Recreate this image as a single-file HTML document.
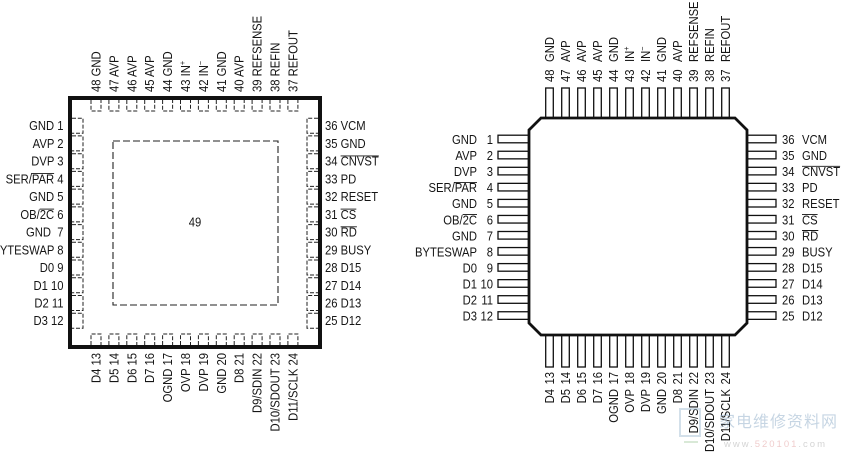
<!DOCTYPE html>
<html><head><meta charset="utf-8"><style>
html,body{margin:0;padding:0;background:#fff;}
svg{display:block;}
text{font-family:"Liberation Sans",sans-serif;font-size:12.5px;fill:#151515;}
.pad{fill:none;stroke:#222;stroke-width:1;stroke-dasharray:4,1.8;}
.pin{fill:#fff;stroke:#111;stroke-width:1.3;}
.ovl{stroke:#151515;stroke-width:0.9;}
</style></head><body>
<svg width="847" height="457" viewBox="0 0 847 457" xmlns="http://www.w3.org/2000/svg">
<rect width="847" height="457" fill="#fff"/>

<!-- ============ LEFT CHIP ============ -->
<rect x="70" y="98" width="250" height="249" fill="#fff" stroke="#111" stroke-width="4"/>
<rect x="113" y="141" width="165" height="164" fill="none" stroke="#222" stroke-width="1.1" stroke-dasharray="7,3"/>
<text transform="translate(195,226.5) scale(0.9,1)" text-anchor="middle">49</text>

<!-- top pads -->
<path class="pad" d="M91,100V111H101V100 M108.9,100V111H118.9V100 M126.8,100V111H136.8V100 M144.7,100V111H154.7V100 M162.6,100V111H172.6V100 M180.5,100V111H190.5V100 M198.4,100V111H208.4V100 M216.3,100V111H226.3V100 M234.2,100V111H244.2V100 M252.1,100V111H262.1V100 M270,100V111H280V100 M287.9,100V111H297.9V100"/>
<!-- bottom pads -->
<path class="pad" d="M91,345V334H101V345 M108.9,345V334H118.9V345 M126.8,345V334H136.8V345 M144.7,345V334H154.7V345 M162.6,345V334H172.6V345 M180.5,345V334H190.5V345 M198.4,345V334H208.4V345 M216.3,345V334H226.3V345 M234.2,345V334H244.2V345 M252.1,345V334H262.1V345 M270,345V334H280V345 M287.9,345V334H297.9V345"/>
<!-- left pads -->
<path class="pad" d="M72,118.2H83V133.2H72 M72,135.9H83V150.9H72 M72,153.7H83V168.7H72 M72,171.4H83V186.4H72 M72,189.1H83V204.1H72 M72,206.9H83V221.9H72 M72,224.6H83V239.6H72 M72,242.3H83V257.3H72 M72,260H83V275H72 M72,277.8H83V292.8H72 M72,295.5H83V310.5H72 M72,313.2H83V328.2H72"/>
<!-- right pads -->
<path class="pad" d="M318,118.2H307V133.2H318 M318,135.9H307V150.9H318 M318,153.7H307V168.7H318 M318,171.4H307V186.4H318 M318,189.1H307V204.1H318 M318,206.9H307V221.9H318 M318,224.6H307V239.6H318 M318,242.3H307V257.3H318 M318,260H307V275H318 M318,277.8H307V292.8H318 M318,295.5H307V310.5H318 M318,313.2H307V328.2H318"/>

<!-- left labels -->
<g text-anchor="end">
<text transform="translate(63.5,130.2) scale(0.9,1)">GND 1</text>
<text transform="translate(63.5,147.9) scale(0.9,1)">AVP 2</text>
<text transform="translate(63.5,165.7) scale(0.9,1)">DVP 3</text>
<text transform="translate(63.5,183.4) scale(0.9,1)">SER/PAR 4</text>
<text transform="translate(63.5,201.1) scale(0.9,1)">GND 5</text>
<text transform="translate(63.5,218.9) scale(0.9,1)">OB/2C 6</text>
<text transform="translate(63.5,236.6) scale(0.9,1)" xml:space="preserve">GND  7</text>
<text transform="translate(63.5,254.3) scale(0.9,1)">BYTESWAP 8</text>
<text transform="translate(63.5,272) scale(0.9,1)">D0 9</text>
<text transform="translate(63.5,289.8) scale(0.9,1)">D1 10</text>
<text transform="translate(63.5,307.5) scale(0.9,1)">D2 11</text>
<text transform="translate(63.5,325.2) scale(0.9,1)">D3 12</text>
</g>
<line class="ovl" x1="31" y1="173.6" x2="54.1" y2="173.6"/>
<line class="ovl" x1="39.7" y1="209.1" x2="54.1" y2="209.1"/>
<!-- right labels -->
<g>
<text transform="translate(325,130.2) scale(0.9,1)">36 VCM</text>
<text transform="translate(325,147.9) scale(0.9,1)">35 GND</text>
<text transform="translate(325,165.7) scale(0.9,1)">34 CNVST</text>
<text transform="translate(325,183.4) scale(0.9,1)">33 PD</text>
<text transform="translate(325,201.1) scale(0.9,1)">32 RESET</text>
<text transform="translate(325,218.9) scale(0.9,1)">31 CS</text>
<text transform="translate(325,236.6) scale(0.9,1)">30 RD</text>
<text transform="translate(325,254.3) scale(0.9,1)">29 BUSY</text>
<text transform="translate(325,272) scale(0.9,1)">28 D15</text>
<text transform="translate(325,289.8) scale(0.9,1)">27 D14</text>
<text transform="translate(325,307.5) scale(0.9,1)">26 D13</text>
<text transform="translate(325,325.2) scale(0.9,1)">25 D12</text>
</g>
<line class="ovl" x1="340.6" y1="155.9" x2="378.8" y2="155.9"/>
<line class="ovl" x1="340.6" y1="209.1" x2="356.3" y2="209.1"/>
<line class="ovl" x1="340.6" y1="226.8" x2="356.9" y2="226.8"/>
<!-- top labels -->
<g>
<text transform="translate(100.5,92) rotate(-90) scale(0.9,1)">48 GND</text>
<text transform="translate(118.4,92) rotate(-90) scale(0.9,1)">47 AVP</text>
<text transform="translate(136.3,92) rotate(-90) scale(0.9,1)">46 AVP</text>
<text transform="translate(154.2,92) rotate(-90) scale(0.9,1)">45 AVP</text>
<text transform="translate(172.1,92) rotate(-90) scale(0.9,1)">44 GND</text>
<text transform="translate(190,92) rotate(-90) scale(0.9,1)">43 IN<tspan font-size="8" dy="-5">+</tspan></text>
<text transform="translate(207.9,92) rotate(-90) scale(0.9,1)">42 IN<tspan font-size="8" dy="-5">−</tspan></text>
<text transform="translate(225.8,92) rotate(-90) scale(0.9,1)">41 GND</text>
<text transform="translate(243.7,92) rotate(-90) scale(0.9,1)">40 AVP</text>
<text transform="translate(261.6,92) rotate(-90) scale(0.9,1)">39 REFSENSE</text>
<text transform="translate(279.5,92) rotate(-90) scale(0.9,1)">38 REFIN</text>
<text transform="translate(297.4,92) rotate(-90) scale(0.9,1)">37 REFOUT</text>
</g>
<!-- bottom labels -->
<g text-anchor="end">
<text transform="translate(100.5,353) rotate(-90) scale(0.9,1)">D4 13</text>
<text transform="translate(118.4,353) rotate(-90) scale(0.9,1)">D5 14</text>
<text transform="translate(136.3,353) rotate(-90) scale(0.9,1)">D6 15</text>
<text transform="translate(154.2,353) rotate(-90) scale(0.9,1)">D7 16</text>
<text transform="translate(172.1,353) rotate(-90) scale(0.9,1)">OGND 17</text>
<text transform="translate(190,353) rotate(-90) scale(0.9,1)">OVP 18</text>
<text transform="translate(207.9,353) rotate(-90) scale(0.9,1)">DVP 19</text>
<text transform="translate(225.8,353) rotate(-90) scale(0.9,1)">GND 20</text>
<text transform="translate(243.7,353) rotate(-90) scale(0.9,1)">D8 21</text>
<text transform="translate(261.6,353) rotate(-90) scale(0.9,1)">D9/SDIN 22</text>
<text transform="translate(279.5,353) rotate(-90) scale(0.9,1)">D10/SDOUT 23</text>
<text transform="translate(297.4,353) rotate(-90) scale(0.9,1)">D11/SCLK 24</text>
</g>

<!-- ============ RIGHT CHIP ============ -->
<g class="pin">
<rect x="545.7" y="88" width="7.6" height="30"/><rect x="561.7" y="88" width="7.6" height="30"/><rect x="577.7" y="88" width="7.6" height="30"/><rect x="593.7" y="88" width="7.6" height="30"/><rect x="609.7" y="88" width="7.6" height="30"/><rect x="625.7" y="88" width="7.6" height="30"/><rect x="641.7" y="88" width="7.6" height="30"/><rect x="657.7" y="88" width="7.6" height="30"/><rect x="673.7" y="88" width="7.6" height="30"/><rect x="689.7" y="88" width="7.6" height="30"/><rect x="705.7" y="88" width="7.6" height="30"/><rect x="721.7" y="88" width="7.6" height="30"/>
<rect x="545.7" y="335" width="7.6" height="32"/><rect x="561.7" y="335" width="7.6" height="32"/><rect x="577.7" y="335" width="7.6" height="32"/><rect x="593.7" y="335" width="7.6" height="32"/><rect x="609.7" y="335" width="7.6" height="32"/><rect x="625.7" y="335" width="7.6" height="32"/><rect x="641.7" y="335" width="7.6" height="32"/><rect x="657.7" y="335" width="7.6" height="32"/><rect x="673.7" y="335" width="7.6" height="32"/><rect x="689.7" y="335" width="7.6" height="32"/><rect x="705.7" y="335" width="7.6" height="32"/><rect x="721.7" y="335" width="7.6" height="32"/>
<rect x="498" y="135.2" width="31" height="7.6"/><rect x="498" y="151.25" width="31" height="7.6"/><rect x="498" y="167.3" width="31" height="7.6"/><rect x="498" y="183.35" width="31" height="7.6"/><rect x="498" y="199.4" width="31" height="7.6"/><rect x="498" y="215.45" width="31" height="7.6"/><rect x="498" y="231.5" width="31" height="7.6"/><rect x="498" y="247.55" width="31" height="7.6"/><rect x="498" y="263.6" width="31" height="7.6"/><rect x="498" y="279.65" width="31" height="7.6"/><rect x="498" y="295.7" width="31" height="7.6"/><rect x="498" y="311.75" width="31" height="7.6"/>
<rect x="747" y="135.2" width="29" height="7.6"/><rect x="747" y="151.25" width="29" height="7.6"/><rect x="747" y="167.3" width="29" height="7.6"/><rect x="747" y="183.35" width="29" height="7.6"/><rect x="747" y="199.4" width="29" height="7.6"/><rect x="747" y="215.45" width="29" height="7.6"/><rect x="747" y="231.5" width="29" height="7.6"/><rect x="747" y="247.55" width="29" height="7.6"/><rect x="747" y="263.6" width="29" height="7.6"/><rect x="747" y="279.65" width="29" height="7.6"/><rect x="747" y="295.7" width="29" height="7.6"/><rect x="747" y="311.75" width="29" height="7.6"/>
</g>
<polygon points="541,118 735,118 747,130 747,323 735,335 541,335 529,323 529,130" fill="#fff" stroke="#111" stroke-width="2.8" stroke-linejoin="miter"/>

<g text-anchor="end">
<text transform="translate(477,144) scale(0.9,1)">GND</text>
<text transform="translate(477,160.1) scale(0.9,1)">AVP</text>
<text transform="translate(477,176.1) scale(0.9,1)">DVP</text>
<text transform="translate(477,192.2) scale(0.9,1)">SER/PAR</text>
<text transform="translate(477,208.2) scale(0.9,1)">GND</text>
<text transform="translate(477,224.3) scale(0.9,1)">OB/2C</text>
<text transform="translate(477,240.3) scale(0.9,1)">GND</text>
<text transform="translate(477,256.4) scale(0.9,1)">BYTESWAP</text>
<text transform="translate(477,272.4) scale(0.9,1)">D0</text>
<text transform="translate(477,288.5) scale(0.9,1)">D1</text>
<text transform="translate(477,304.5) scale(0.9,1)">D2</text>
<text transform="translate(477,320.6) scale(0.9,1)">D3</text>
<text transform="translate(493,144) scale(0.9,1)">1</text>
<text transform="translate(493,160.1) scale(0.9,1)">2</text>
<text transform="translate(493,176.1) scale(0.9,1)">3</text>
<text transform="translate(493,192.2) scale(0.9,1)">4</text>
<text transform="translate(493,208.2) scale(0.9,1)">5</text>
<text transform="translate(493,224.3) scale(0.9,1)">6</text>
<text transform="translate(493,240.3) scale(0.9,1)">7</text>
<text transform="translate(493,256.4) scale(0.9,1)">8</text>
<text transform="translate(493,272.4) scale(0.9,1)">9</text>
<text transform="translate(493,288.5) scale(0.9,1)">10</text>
<text transform="translate(493,304.5) scale(0.9,1)">11</text>
<text transform="translate(493,320.6) scale(0.9,1)">12</text>
</g>
<line class="ovl" x1="453.9" y1="182.4" x2="477" y2="182.4"/>
<line class="ovl" x1="462.6" y1="214.5" x2="477" y2="214.5"/>
<g>
<text transform="translate(782,144) scale(0.9,1)">36</text>
<text transform="translate(782,160.1) scale(0.9,1)">35</text>
<text transform="translate(782,176.1) scale(0.9,1)">34</text>
<text transform="translate(782,192.2) scale(0.9,1)">33</text>
<text transform="translate(782,208.2) scale(0.9,1)">32</text>
<text transform="translate(782,224.3) scale(0.9,1)">31</text>
<text transform="translate(782,240.3) scale(0.9,1)">30</text>
<text transform="translate(782,256.4) scale(0.9,1)">29</text>
<text transform="translate(782,272.4) scale(0.9,1)">28</text>
<text transform="translate(782,288.5) scale(0.9,1)">27</text>
<text transform="translate(782,304.5) scale(0.9,1)">26</text>
<text transform="translate(782,320.6) scale(0.9,1)">25</text>
<text transform="translate(802,144) scale(0.9,1)">VCM</text>
<text transform="translate(802,160.1) scale(0.9,1)">GND</text>
<text transform="translate(802,176.1) scale(0.9,1)">CNVST</text>
<text transform="translate(802,192.2) scale(0.9,1)">PD</text>
<text transform="translate(802,208.2) scale(0.9,1)">RESET</text>
<text transform="translate(802,224.3) scale(0.9,1)">CS</text>
<text transform="translate(802,240.3) scale(0.9,1)">RD</text>
<text transform="translate(802,256.4) scale(0.9,1)">BUSY</text>
<text transform="translate(802,272.4) scale(0.9,1)">D15</text>
<text transform="translate(802,288.5) scale(0.9,1)">D14</text>
<text transform="translate(802,304.5) scale(0.9,1)">D13</text>
<text transform="translate(802,320.6) scale(0.9,1)">D12</text>
</g>
<line class="ovl" x1="802" y1="166.3" x2="840.1" y2="166.3"/>
<line class="ovl" x1="802" y1="214.5" x2="817.6" y2="214.5"/>
<line class="ovl" x1="802" y1="230.5" x2="818.3" y2="230.5"/>
<g>
<text transform="translate(554,82) rotate(-90) scale(0.9,1)">48</text>
<text transform="translate(570,82) rotate(-90) scale(0.9,1)">47</text>
<text transform="translate(586,82) rotate(-90) scale(0.9,1)">46</text>
<text transform="translate(602,82) rotate(-90) scale(0.9,1)">45</text>
<text transform="translate(618,82) rotate(-90) scale(0.9,1)">44</text>
<text transform="translate(634,82) rotate(-90) scale(0.9,1)">43</text>
<text transform="translate(650,82) rotate(-90) scale(0.9,1)">42</text>
<text transform="translate(666,82) rotate(-90) scale(0.9,1)">41</text>
<text transform="translate(682,82) rotate(-90) scale(0.9,1)">40</text>
<text transform="translate(698,82) rotate(-90) scale(0.9,1)">39</text>
<text transform="translate(714,82) rotate(-90) scale(0.9,1)">38</text>
<text transform="translate(730,82) rotate(-90) scale(0.9,1)">37</text>
<text transform="translate(554,62) rotate(-90) scale(0.9,1)">GND</text>
<text transform="translate(570,62) rotate(-90) scale(0.9,1)">AVP</text>
<text transform="translate(586,62) rotate(-90) scale(0.9,1)">AVP</text>
<text transform="translate(602,62) rotate(-90) scale(0.9,1)">AVP</text>
<text transform="translate(618,62) rotate(-90) scale(0.9,1)">GND</text>
<text transform="translate(634,62) rotate(-90) scale(0.9,1)">IN<tspan font-size="8" dy="-5">+</tspan></text>
<text transform="translate(650,62) rotate(-90) scale(0.9,1)">IN<tspan font-size="8" dy="-5">−</tspan></text>
<text transform="translate(666,62) rotate(-90) scale(0.9,1)">GND</text>
<text transform="translate(682,62) rotate(-90) scale(0.9,1)">AVP</text>
<text transform="translate(698,62) rotate(-90) scale(0.9,1)">REFSENSE</text>
<text transform="translate(714,62) rotate(-90) scale(0.9,1)">REFIN</text>
<text transform="translate(730,62) rotate(-90) scale(0.9,1)">REFOUT</text>
</g>
<g text-anchor="end">
<text transform="translate(554,372) rotate(-90) scale(0.9,1)">13</text>
<text transform="translate(570,372) rotate(-90) scale(0.9,1)">14</text>
<text transform="translate(586,372) rotate(-90) scale(0.9,1)">15</text>
<text transform="translate(602,372) rotate(-90) scale(0.9,1)">16</text>
<text transform="translate(618,372) rotate(-90) scale(0.9,1)">17</text>
<text transform="translate(634,372) rotate(-90) scale(0.9,1)">18</text>
<text transform="translate(650,372) rotate(-90) scale(0.9,1)">19</text>
<text transform="translate(666,372) rotate(-90) scale(0.9,1)">20</text>
<text transform="translate(682,372) rotate(-90) scale(0.9,1)">21</text>
<text transform="translate(698,372) rotate(-90) scale(0.9,1)">22</text>
<text transform="translate(714,372) rotate(-90) scale(0.9,1)">23</text>
<text transform="translate(730,372) rotate(-90) scale(0.9,1)">24</text>
<text transform="translate(554,389) rotate(-90) scale(0.9,1)">D4</text>
<text transform="translate(570,389) rotate(-90) scale(0.9,1)">D5</text>
<text transform="translate(586,389) rotate(-90) scale(0.9,1)">D6</text>
<text transform="translate(602,389) rotate(-90) scale(0.9,1)">D7</text>
<text transform="translate(618,389) rotate(-90) scale(0.9,1)">OGND</text>
<text transform="translate(634,389) rotate(-90) scale(0.9,1)">OVP</text>
<text transform="translate(650,389) rotate(-90) scale(0.9,1)">DVP</text>
<text transform="translate(666,389) rotate(-90) scale(0.9,1)">GND</text>
<text transform="translate(682,389) rotate(-90) scale(0.9,1)">D8</text>
<text transform="translate(698,389) rotate(-90) scale(0.9,1)">D9/SDIN</text>
<text transform="translate(714,389) rotate(-90) scale(0.9,1)">D10/SDOUT</text>
<text transform="translate(730,389) rotate(-90) scale(0.9,1)">D11/SCLK</text>
</g>

<!-- watermark -->
<g opacity="0.5">
<path d="M680,409H700V436H680Z" fill="none" stroke="#a9c3d6" stroke-width="2"/>
<path d="M684,442H698" stroke="#b5d4b0" stroke-width="2"/>
<text x="719" y="427" style="font-family:'Liberation Sans','Noto Sans CJK SC',sans-serif;font-size:16px;fill:#8fadc8;letter-spacing:1px">家电维修资料网</text>
<text x="724" y="447" style="font-family:'Liberation Sans',sans-serif;font-size:9.5px;fill:#aaa;letter-spacing:2px">www.<tspan style="fill:#e09a9a">520101</tspan>.com</text>
</g>
</svg>
</body></html>
